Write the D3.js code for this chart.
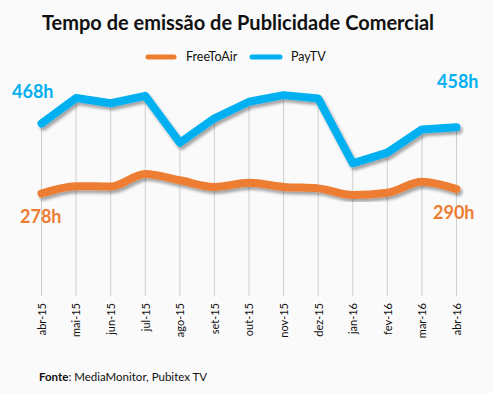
<!DOCTYPE html>
<html><head><meta charset="utf-8">
<script src="https://cdnjs.cloudflare.com/ajax/libs/d3/7.8.5/d3.min.js"></script>
<style>
html,body{margin:0;padding:0;background:#fafafa;}
svg{display:block;font-family:Lato,"Open Sans",sans-serif;}
</style></head><body>
<script>
const months = ["abr-15","mai-15","jun-15","jul-15","ago-15","set-15","out-15","nov-15","dez-15","jan-16","fev-16","mar-16","abr-16"];
const payTV = [468,537,523,543,416,482,527,545,536,360,389,452,458];
const freeToAir = [278,298,297,331,314,296,307,296,292,274,280,310,290];
const seriesNames = ["FreeToAir","PayTV"];
const colors = ["#ED7D31","#00B0F0"];

const W=493,H=393;
const svg=d3.select("body").append("svg").attr("width",W).attr("height",H);
svg.append("rect").attr("width",W).attr("height",H).attr("fill","#fafafa");

const defs=svg.append("defs");
const f=defs.append("filter").attr("id","sh").attr("x","-10%").attr("y","-30%").attr("width","120%").attr("height","160%");
f.append("feGaussianBlur").attr("in","SourceAlpha").attr("stdDeviation",1.6).attr("result","b");
f.append("feOffset").attr("in","b").attr("dx",2).attr("dy",3).attr("result","o");
f.append("feComponentTransfer").attr("in","o").attr("result","o2").append("feFuncA").attr("type","linear").attr("slope",0.35);
const m=f.append("feMerge");m.append("feMergeNode").attr("in","o2");m.append("feMergeNode").attr("in","SourceGraphic");

const x=d3.scalePoint().domain(months).range([41.5,456.5]);
const y=d3.scaleLinear().domain([0,468]).range([296,123.5]);

// drop lines
svg.append("g").selectAll("line").data(months).join("line")
  .attr("x1",d=>x(d)).attr("x2",d=>x(d))
  .attr("y1",(d,i)=>y(payTV[i])).attr("y2",296)
  .attr("stroke","#cfcfcf").attr("stroke-width",1);

// x axis labels
const ax=svg.append("g").attr("transform","translate(0,303)").call(d3.axisBottom(x).tickSize(0).tickPadding(0));
ax.select(".domain").remove();
ax.selectAll("text").attr("transform","rotate(-90)").attr("text-anchor","end")
  .attr("x",0).attr("y",0).attr("dx",0).attr("dy","0.35em")
  .attr("font-size",11).attr("fill","#111").attr("font-family","Lato,sans-serif");

// lines
const lineLin=d3.line().x((d,i)=>x(months[i])).y(d=>y(d));
const lineSm=d3.line().x((d,i)=>x(months[i])).y(d=>y(d)).curve(d3.curveMonotoneX);
svg.append("path").datum(freeToAir).attr("d",lineSm).attr("fill","none").attr("stroke",colors[0])
  .attr("stroke-width",8).attr("stroke-linecap","round").attr("stroke-linejoin","round").attr("filter","url(#sh)");
svg.append("path").datum(payTV).attr("d",lineLin).attr("fill","none").attr("stroke",colors[1])
  .attr("stroke-width",8).attr("stroke-linecap","round").attr("stroke-linejoin","round").attr("filter","url(#sh)");

// title
svg.append("text").attr("x",238).attr("y",30).attr("text-anchor","middle")
  .attr("font-size",20).attr("font-weight","bold").attr("fill","#111").text("Tempo de emissão de Publicidade Comercial");

// legend
const leg=[{n:seriesNames[0],c:colors[0],x1:148,x2:174,tx:186},{n:seriesNames[1],c:colors[1],x1:252,x2:280,tx:291}];
leg.forEach(l=>{
  svg.append("line").attr("x1",l.x1).attr("x2",l.x2).attr("y1",57).attr("y2",57).attr("stroke",l.c)
    .attr("stroke-width",5).attr("stroke-linecap","round");
  svg.append("text").attr("x",l.tx).attr("y",61).attr("font-size",12.5).attr("fill","#111").text(l.n);
});

// value labels
function lab(txt,xx,yy,c){svg.append("text").attr("x",xx).attr("y",yy).attr("font-size",18).attr("font-weight","bold").attr("fill",c).text(txt);}
lab(payTV[0]+"h",12,98,colors[1]);
lab(freeToAir[0]+"h",20,223,colors[0]);
lab(payTV[12]+"h",437,88,colors[1]);
lab(freeToAir[12]+"h",433,219,colors[0]);

// source
const s=svg.append("text").attr("x",39).attr("y",381).attr("font-size",11.5).attr("fill","#111");
s.append("tspan").attr("font-weight","bold").text("Fonte");
s.append("tspan").text(": MediaMonitor, Pubitex TV");
</script>
</body></html>
